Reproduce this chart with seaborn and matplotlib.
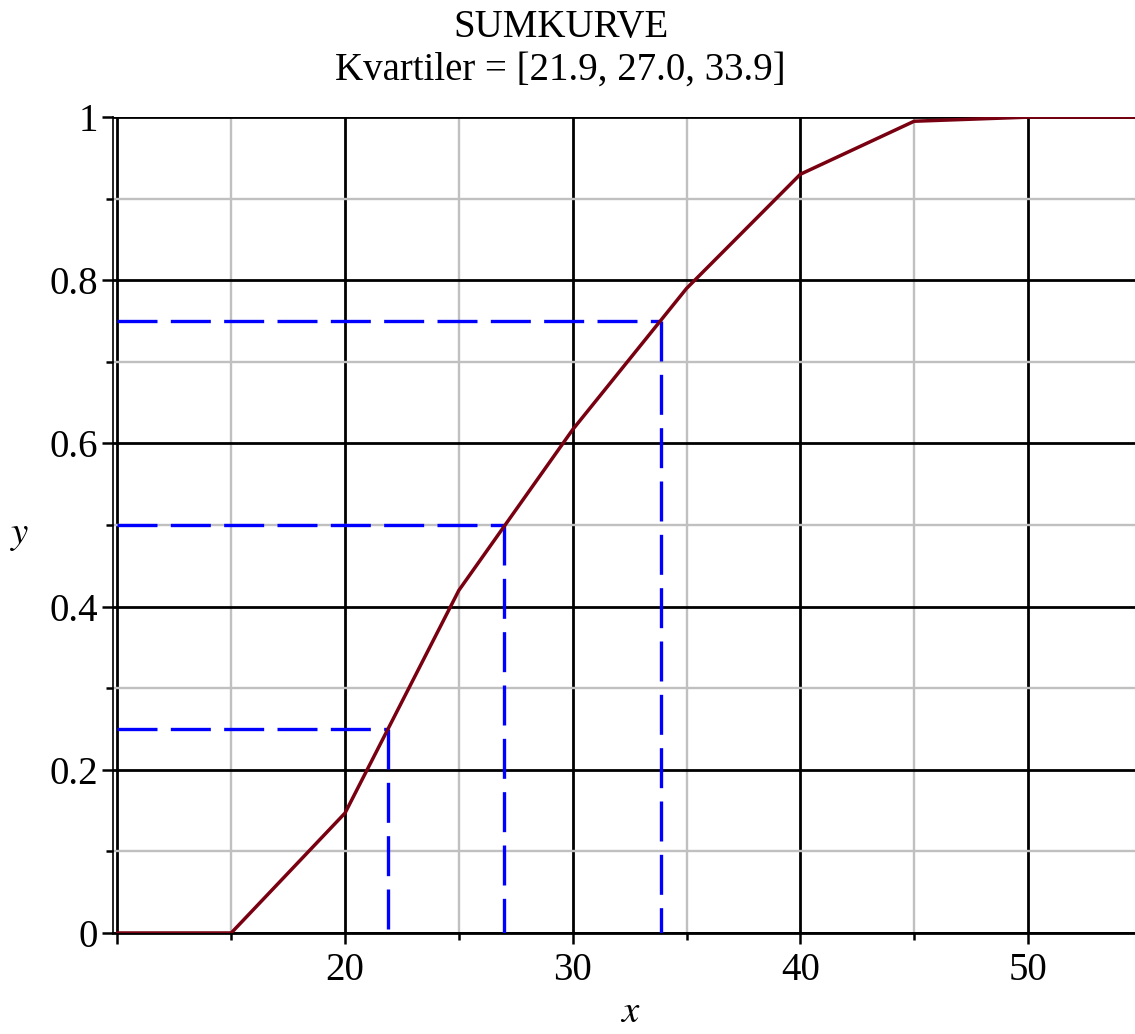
import matplotlib
matplotlib.use("Agg")
import matplotlib.pyplot as plt
import seaborn as sns
import numpy as np
import pandas as pd
from matplotlib.ticker import MultipleLocator, FuncFormatter

# ---- data ----
x_vals = [10, 15, 20, 25, 30, 35, 40, 45, 50, 55]
cum_vals = [0.0, 0.0, 0.147, 0.42, 0.617, 0.79, 0.93, 0.995, 1.0, 1.0]
quartiles = [21.9, 27.0, 33.9]
quart_probs = [0.25, 0.5, 0.75]
title_line1 = "SUMKURVE"
title_line2 = "Kvartiler = [21.9, 27.0, 33.9]"

sns.set_style("white")
plt.rcParams['font.family'] = ['Liberation Serif', 'DejaVu Serif']
plt.rcParams['mathtext.fontset'] = 'stix'
plt.rcParams['text.color'] = 'black'
plt.rcParams['axes.labelcolor'] = 'black'
plt.rcParams['xtick.color'] = 'black'
plt.rcParams['ytick.color'] = 'black'

fig = plt.figure(figsize=(11.35, 10.34), dpi=100)
ax = fig.add_axes([0.0996, 0.0977, 0.9004, 0.789])

FS = 28
x_left = 9.81
x_right = 54.7

df = pd.DataFrame({"x": x_vals, "y": cum_vals})
sns.lineplot(data=df, x="x", y="y", ax=ax, color="#780010", lw=2.5,
             zorder=5, sort=False, estimator=None)

dash = (0, (12, 4))
for q, p in zip(quartiles, quart_probs):
    hdf = pd.DataFrame({"x": [10, q], "y": [p, p]})
    sns.lineplot(data=hdf, x="x", y="y", ax=ax, color="#0000ff", lw=2.4,
                 linestyle=dash, zorder=4, sort=False, estimator=None)
    vdf = pd.DataFrame({"x": [q, q], "y": [p, 0]})
    sns.lineplot(data=vdf, x="x", y="y", ax=ax, color="#0000ff", lw=2.4,
                 linestyle=dash, zorder=4, sort=False, estimator=None,
                 orient="y")

ax.set_xlim(x_left, x_right)
ax.set_ylim(0, 1)
ax.xaxis.set_major_locator(MultipleLocator(10))
ax.xaxis.set_minor_locator(MultipleLocator(5))
ax.yaxis.set_major_locator(MultipleLocator(0.2))
ax.yaxis.set_minor_locator(MultipleLocator(0.1))

def yfmt(v, pos):
    if abs(v) < 1e-9:
        return "0"
    if abs(v - 1) < 1e-9:
        return "1"
    return f"{v:.1f}"

def xfmt(v, pos):
    if abs(v - 10) < 1e-9:
        return ""
    return f"{int(round(v))}"

ax.yaxis.set_major_formatter(FuncFormatter(yfmt))
ax.xaxis.set_major_formatter(FuncFormatter(xfmt))

ax.grid(which='major', color='black', lw=2.0, zorder=1)
ax.grid(which='minor', color='#c0c0c0', lw=1.7, zorder=0)
ax.set_axisbelow(True)

for s in ['top', 'right']:
    ax.spines[s].set_visible(False)
ax.spines['left'].set_color('black')
ax.spines['left'].set_linewidth(1.2)
ax.spines['bottom'].set_color('black')
ax.spines['bottom'].set_linewidth(2.0)

ax.tick_params(axis='both', which='major', direction='out', length=8,
               width=1.8, color='black', labelsize=FS, pad=3,
               bottom=True, left=True, labelcolor='black')
ax.tick_params(axis='both', which='minor', direction='out', length=5,
               width=1.8, color='black', bottom=True, left=True)
ax.tick_params(axis='x', which='major', pad=6)

ax.set_xlabel("$x$", fontsize=FS, color='black')
ax.set_ylabel("$y$", fontsize=FS, rotation=0, color='black')
ax.xaxis.set_label_coords(0.506, -0.098)
ax.yaxis.set_label_coords(-0.091, 0.488)
ax.xaxis.label.set_va('center')
ax.yaxis.label.set_va('center')
ax.yaxis.label.set_ha('center')

fig.text(0.494, 1 - 28 / 1034, title_line1, ha='center', va='center',
         fontsize=FS, color='black')
fig.text(0.494, 1 - 70 / 1034, title_line2, ha='center', va='center',
         fontsize=FS, color='black')

fig.savefig("out.png", dpi=100)
